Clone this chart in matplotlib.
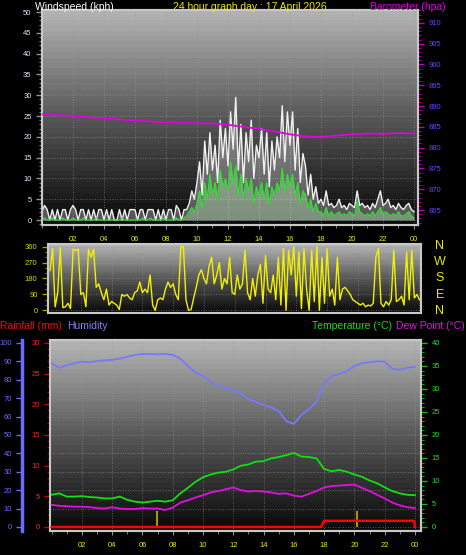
import numpy as np
import matplotlib
matplotlib.use("Agg")
import matplotlib.pyplot as plt
from matplotlib.colors import LinearSegmentedColormap
from matplotlib.ticker import MultipleLocator

plt.rcParams['font.family'] = ['Liberation Sans', 'DejaVu Sans']

# ---------------- data ----------------
# wind, 10 minute steps from 00:00 to 24:00
gust_kph = [2, 3.5, 2.5, 0, 2.5, 0,
            2.5, 0, 2.5, 2.5, 0, 2.5,
            3.5, 2.5, 0, 2.5, 2.5, 0,
            2.5, 0, 2.5, 0, 2.5, 2.5,
            0, 2.5, 0, 2.5, 0, 0,
            2.5, 0, 2.5, 0, 2.5, 2.5,
            2.5, 0, 2.5, 2.5, 0, 2.5,
            2.5, 2.5, 0, 2.5, 0, 2.5,
            0, 2.5, 2.5, 0, 3.5, 2.5,
            0, 2.5, 2.5, 4, 7, 5,
            9, 14, 6, 19, 11, 21,
            12, 18, 9, 24, 15, 22,
            13, 26, 17, 29.5, 12, 23,
            9, 21, 14, 24, 10, 18,
            15, 22, 11, 21, 8, 19,
            12, 20, 15, 27.5, 14, 26,
            18, 26, 12, 22, 9, 16,
            13, 6, 11, 5, 8, 4,
            5, 3.5, 7, 3.5, 4, 3,
            3.5, 5, 3, 3.5, 2.5, 4,
            3.5, 3, 7, 3.5, 4, 3,
            3.5, 2.5, 4, 3, 5, 7,
            3.5, 4, 5, 3, 3.5, 2.5,
            4, 3, 2.5, 3.5, 4, 2.5,
            2]
avg_kph = [0, 0.5, 0, 0, 0.5, 0,
           0, 0, 0.5, 0, 0, 0,
           0.5, 0, 0, 0, 0.5, 0,
           0, 0, 0, 0.5, 0, 0,
           0, 0, 0, 0, 0, 0,
           0, 0.5, 0, 0, 0, 0,
           0, 0, 0, 0.5, 0, 0,
           0.5, 0, 0, 0, 0, 0.5,
           0, 0, 0, 0, 0.5, 0,
           0, 0.5, 1, 2, 3, 2,
           4, 7, 3, 9, 5, 11,
           6, 9, 5, 12, 8, 10,
           7, 14, 9, 13, 6, 11,
           5, 10, 7, 10, 4, 8,
           6, 9, 5, 9, 4, 8,
           6, 9, 7, 12.5, 7, 11,
           8, 11, 6, 9, 4, 7,
           6, 3, 5, 2, 4, 2,
           2, 1, 3, 1, 2, 1,
           1.5, 2, 1, 1.5, 1, 2,
           1.5, 1, 4.5, 2, 1.5, 1,
           1.5, 1, 2, 1, 2, 3,
           1.5, 2, 1.5, 1, 1.5, 1,
           2, 1, 1, 1.5, 2, 1,
           0.5]
wind_dir = [225, 350, 20, 100, 355, 15,
            20, 40, 10, 345, 340, 345,
            90, 100, 20, 345, 300, 345,
            130, 150, 100, 60, 120, 30,
            50, 40, 30, 5, 90, 80,
            90, 70, 60, 100, 110, 160,
            100, 120, 100, 200, 30, 0,
            60, 70, 60, 120, 160, 130,
            150, 90, 60, 360, 360, 60,
            0, 5, 70, 130, 200, 230,
            180, 150, 250, 300, 150, 200,
            270, 120, 180, 150, 300, 100,
            90, 200, 120, 150, 340, 100,
            60, 180, 80, 200, 260, 40,
            310, 120, 100, 200, 60, 300,
            30, 350, 0, 340, 200, 360,
            80, 330, 10, 350, 120, 0,
            340, 50, 360, 0, 300, 40,
            350, 80, 120, 30, 300, 60,
            120, 130, 110, 90, 60, 50,
            40, 30, 40, 20, 30, 25,
            40, 300, 350, 40, 20, 50,
            30, 60, 340, 50, 60, 80,
            30, 330, 60, 340, 70, 90,
            60]
ten_min = np.arange(len(gust_kph)) / 6

# barometer, hourly
baro_hours = np.arange(25)
baro_hpa = [888.0, 887.8, 887.6, 887.3, 887.1, 886.8, 886.5, 886.3, 886.1, 886.0,
            885.9, 885.8, 885.5, 885.0, 884.5, 883.9, 883.2, 882.7, 882.6, 882.9,
            883.2, 883.4, 883.3, 883.5, 883.4]

# humidity / temperature / dew point, half hourly
humidity = [89, 86.4, 88, 89, 89.8, 89.5, 90.2, 90.5, 90.8, 91.5,
            92.5, 93.5, 94, 94, 93.8, 94, 93.5, 91.5, 87.5, 84,
            82, 79, 76.5, 75.5, 74.5, 72.7, 69.5, 68, 66.3, 65,
            63, 57.5, 56, 61, 64, 68, 78, 82, 83, 84.5,
            87.5, 89, 89.5, 90, 89.8, 86, 85.5, 86.5, 87]
temperature = [7.0, 7.3, 6.6, 6.6, 6.7, 6.5, 6.4, 6.2, 6.2, 6.6,
               5.9, 5.5, 5.3, 5.5, 5.7, 5.5, 5.8, 7.3, 8.5, 9.8,
               10.8, 11.4, 11.8, 12.0, 12.5, 13.3, 13.6, 14.2, 14.3, 14.9,
               15.2, 15.6, 16.1, 15.3, 15.2, 14.9, 12.6, 12.1, 12.4, 12.0,
               11.4, 10.9, 10.1, 9.5, 8.6, 7.8, 7.3, 7.0, 6.9]
dew_point = [4.8, 4.6, 4.5, 4.4, 4.4, 4.3, 4.1, 4.0, 4.3, 4.0,
             3.9, 3.9, 4.1, 4.0, 4.0, 3.7, 4.2, 5.3, 5.8, 6.4,
             6.9, 7.5, 7.8, 8.2, 8.6, 8.0, 7.7, 7.8, 7.7, 7.5,
             7.2, 7.3, 6.8, 6.6, 7.2, 7.8, 8.6, 8.9, 9.0, 9.1,
             9.2, 8.5, 7.8, 7.0, 6.2, 5.3, 4.7, 4.3, 4.1]
half_hours = np.arange(len(humidity)) / 2

# rainfall
rain_hours = [0, 17.8, 18.0, 23.95, 24.0]
rain_mm = [0, 0, 1.0, 1.0, 0]
rate_hours = [6.95, 20.2]
rate_mm = [2.6, 2.6]

hour_ticks = list(range(2, 25, 2))
hour_labels = ['02', '04', '06', '08', '10', '12', '14', '16', '18', '20', '22', '00']

# ---------------- figure ----------------
W, H = 466, 555
fig = plt.figure(figsize=(W / 100, H / 100), dpi=100, facecolor='black')


def rect(l, t, r, b):
    return [l / W, 1 - b / H, (r - l) / W, (b - t) / H]


shade_cmap = LinearSegmentedColormap.from_list('shade', ['#0a0a0a', '#585858', '#b4b4b4'])
frame_col = '#c8c8c8'
grid_kw = dict(color='#9a9a9a', linestyle=(0, (1, 2)), linewidth=0.6, alpha=0.7)
yellow = '#e8e800'
title_fs = 7.5


def shade(ax):
    grad = np.linspace(1, 0, 40).reshape(-1, 1)
    ax.imshow(grad, cmap=shade_cmap, extent=[0, 1, 0, 1], transform=ax.transAxes,
              aspect='auto', zorder=0, interpolation='nearest')
    ax.set_facecolor('black')
    for s in ax.spines.values():
        s.set_color(frame_col)
        s.set_linewidth(1.5)


# ---- wind / barometer ----
ax1 = fig.add_axes(rect(42, 10, 418, 225))
shade(ax1)
ax1.fill_between(ten_min, gust_kph, color='white', alpha=0.3, lw=0, zorder=2)
ax1.plot(ten_min, gust_kph, color='#f0f0f0', lw=1.0, zorder=3)
ax1.fill_between(ten_min, avg_kph, color='#c8ffc8', alpha=0.35, lw=0, zorder=4)
ax1.plot(ten_min, avg_kph, color='#30e030', lw=0.9, zorder=5)
ax1.set_xlim(0, 24.26)
ax1.set_ylim(-1.2, 50.5)
ax1.yaxis.set_major_locator(MultipleLocator(5))
ax1.yaxis.set_minor_locator(MultipleLocator(1))
ax1.set_xticks(hour_ticks)
ax1.set_xticklabels(hour_labels)
ax1.xaxis.set_minor_locator(MultipleLocator(1))
ax1.tick_params(axis='y', colors='#909090', labelcolor='#d8e8ff', labelsize=5.5, length=4, width=1)
ax1.tick_params(axis='y', which='minor', colors='#909090', length=2)
ax1.tick_params(axis='x', colors='#909090', labelcolor=yellow, labelsize=5.5, length=3, pad=5)
ax1.tick_params(axis='x', which='minor', colors='#909090', length=2)
ax1.grid(True, **grid_kw)

ax1b = ax1.twinx()
ax1b.plot(baro_hours, baro_hpa, color='#e000e0', lw=1.3, zorder=6)
ax1b.set_ylim(862.6 - 1.2, 862.6 + 50.5)
ax1b.set_yticks(range(865, 911, 5))
ax1b.yaxis.set_minor_locator(MultipleLocator(1))
ax1b.tick_params(axis='y', colors='#c000c0', labelcolor='#7040ff', labelsize=5.5, length=4, width=1)
ax1b.tick_params(axis='y', which='minor', colors='#c000c0', length=2)
for s in ax1b.spines.values():
    s.set_color(frame_col)
    s.set_linewidth(1.5)

fig.text(35 / W, 1 - 7 / H, 'Windspeed (kph)', color='white', fontsize=title_fs, va='center', ha='left')
fig.text(250 / W, 1 - 7 / H, '24 hour graph day : 17 April 2026', color=yellow, fontsize=title_fs,
         va='center', ha='center')
fig.text(446 / W, 1 - 7 / H, 'Barometer (hpa)', color='#e000e0', fontsize=title_fs,
         va='center', ha='right')

# ---- wind direction ----
ax2 = fig.add_axes(rect(48, 244, 421, 313))
shade(ax2)
ax2.plot(ten_min, wind_dir, color='#f0f000', lw=1.0, zorder=3)
ax2.set_xlim(-0.13, 24.1)
ax2.set_ylim(-15, 375)
ax2.set_yticks([0, 90, 180, 270, 360])
ax2.yaxis.set_minor_locator(MultipleLocator(30))
ax2.set_xticks(hour_ticks)
ax2.tick_params(axis='x', length=0, labelbottom=False)
ax2.tick_params(axis='y', colors='#a0a000', labelcolor='#d8d800', labelsize=5.5, length=4, width=1)
ax2.tick_params(axis='y', which='minor', colors='#a0a000', length=2)
ax2.grid(True, **grid_kw)
for letter, yp in zip(['N', 'W', 'S', 'E', 'N'], [246, 262, 278, 295, 311]):
    fig.text(440 / W, 1 - yp / H, letter, color=yellow, fontsize=9, ha='center', va='center')

# ---- humidity / rain / temperature ----
ax3 = fig.add_axes(rect(50, 340, 421, 531))
shade(ax3)
ax3.plot(half_hours, humidity, color='#7878ff', lw=1.3, zorder=3)
ax3.set_xlim(-0.11, 24.4)
ax3.set_ylim(-2.2, 101.6)
ax3.set_yticks(range(0, 101, 10))
ax3.set_xticks(hour_ticks)
ax3.set_xticklabels(hour_labels)
ax3.xaxis.set_minor_locator(MultipleLocator(1))
ax3.spines['left'].set_position(('outward', 20))
ax3.spines['left'].set_color('#6a6aff')
ax3.spines['left'].set_linewidth(2.5)
ax3.tick_params(axis='y', colors='#6a6aff', labelcolor='#6a6aff', labelsize=5.5, length=4, width=1)
ax3.tick_params(axis='x', colors='#909090', labelcolor=yellow, labelsize=5.5, length=3, pad=5)
ax3.tick_params(axis='x', which='minor', colors='#909090', length=2)
ax3.grid(True, **grid_kw)

ax3r = ax3.twinx()
ax3r.yaxis.tick_left()
ax3r.plot(rain_hours, rain_mm, color='#ff0000', lw=1.8, zorder=6)
ax3r.vlines(rate_hours, 0, rate_mm, color='#c8b400', lw=1.2, zorder=5)
ax3r.set_ylim(-2.2 * 0.3, 101.6 * 0.3)
ax3r.set_yticks(range(0, 31, 5))
ax3r.yaxis.set_minor_locator(MultipleLocator(1))
ax3r.tick_params(axis='y', colors='#d00000', labelcolor='#ff2020', labelsize=5.5, length=4, width=1)
ax3r.tick_params(axis='y', which='minor', colors='#d00000', length=2)
for s in ['top', 'bottom', 'left']:
    ax3r.spines[s].set_color(frame_col)
    ax3r.spines[s].set_linewidth(1.5)
ax3r.spines['right'].set_visible(False)

ax3t = ax3.twinx()
ax3t.plot(half_hours, temperature, color='#10e010', lw=1.3, zorder=4)
ax3t.plot(half_hours, dew_point, color='#e010e0', lw=1.3, zorder=4)
ax3t.set_ylim(-2.2 * 0.4, 101.6 * 0.4)
ax3t.set_yticks(range(0, 41, 5))
ax3t.yaxis.set_minor_locator(MultipleLocator(1))
ax3t.tick_params(axis='y', colors='#10c010', labelcolor='#20e020', labelsize=5.5, length=4, width=1)
ax3t.tick_params(axis='y', which='minor', colors='#10c010', length=2)
for s in ['top', 'bottom', 'left']:
    ax3t.spines[s].set_visible(False)
ax3t.spines['right'].set_color(frame_col)
ax3t.spines['right'].set_linewidth(1.5)

fig.text(0 / W, 1 - 326 / H, 'Rainfall (mm)', color='#ff0000', fontsize=title_fs, va='center', ha='left')
fig.text(67 / W, 1 - 326 / H, 'Humidity', color='#8080ff', fontsize=title_fs, va='center', ha='left')
fig.text(312 / W, 1 - 326 / H, 'Temperature (°C)', color='#10e010', fontsize=title_fs,
         va='center', ha='left')
fig.text(465 / W, 1 - 326 / H, 'Dew Point (°C)', color='#e010e0', fontsize=title_fs,
         va='center', ha='right')

fig.savefig('out.png', dpi=100, facecolor='black')
